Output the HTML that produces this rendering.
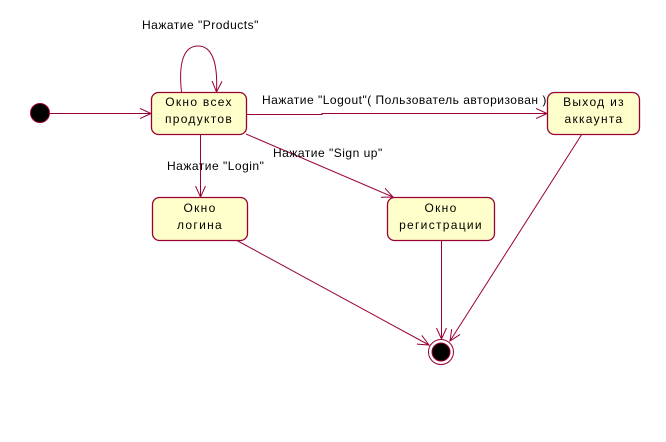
<!DOCTYPE html>
<html><head><meta charset="utf-8"><style>
html,body{margin:0;padding:0;background:#fff;}
svg{display:block;}
text{font-family:"Liberation Sans",Arial,sans-serif;font-size:12px;fill:#000;letter-spacing:0.5px;}
.b text{letter-spacing:1.3px;}
</style></head><body>
<svg width="666" height="442" viewBox="0 0 666 442" xmlns="http://www.w3.org/2000/svg">
<defs>
<marker id="a" markerWidth="12" markerHeight="12" refX="11" refY="6" orient="auto" markerUnits="userSpaceOnUse">
<path d="M0,1 L11,6 L0,11" fill="none" stroke="#990033" stroke-width="1"/>
</marker>
</defs>
<g stroke="#990033" stroke-width="1" fill="none">
<line x1="50" y1="113.5" x2="151" y2="113.5" marker-end="url(#a)"/>
<path d="M181.5,92 C178,60 185,46 198,46 C211,46 218,60 216.5,92" marker-end="url(#a)"/>
<polyline points="247,114.5 322,114.5 322,113.5 547,113.5" marker-end="url(#a)"/>
<line x1="200.5" y1="135" x2="200.5" y2="197" marker-end="url(#a)"/>
<line x1="246" y1="134" x2="393" y2="197" marker-end="url(#a)"/>
<line x1="236" y1="240" x2="429" y2="345" marker-end="url(#a)"/>
<line x1="441.5" y1="240" x2="441.5" y2="339" marker-end="url(#a)"/>
<line x1="582" y1="134" x2="450" y2="341" marker-end="url(#a)"/>
</g>
<circle cx="40" cy="113" r="9.5" fill="#000" stroke="#990033" stroke-width="1"/>
<circle cx="441" cy="352" r="12.5" fill="#fff" stroke="#990033" stroke-width="1"/>
<circle cx="441" cy="352" r="9" fill="#000" stroke="#990033" stroke-width="1"/>
<g fill="#ffffcc" stroke="#990033" stroke-width="1.3">
<rect x="151.5" y="92.5" width="95" height="42" rx="7"/>
<rect x="547.5" y="92.5" width="92" height="42" rx="7"/>
<rect x="152.5" y="197.5" width="95" height="43" rx="7"/>
<rect x="387.5" y="197.5" width="107" height="43" rx="7"/>
</g>
<g text-anchor="middle" class="b">
<text x="199" y="106">Окно всех</text>
<text x="199" y="123">продуктов</text>
<text x="594" y="106">Выход из</text>
<text x="594" y="123">аккаунта</text>
<text x="200" y="212">Окно</text>
<text x="200" y="229">логина</text>
<text x="441" y="212">Окно</text>
<text x="441" y="229">регистрации</text>
</g>
<text x="142" y="29">Нажатие "Products"</text>
<text x="262" y="104">Нажатие "Logout"( Пользователь авторизован )</text>
<text x="273" y="157">Нажатие "Sign up"</text>
<text x="167" y="170">Нажатие "Login"</text>
</svg>
</body></html>
